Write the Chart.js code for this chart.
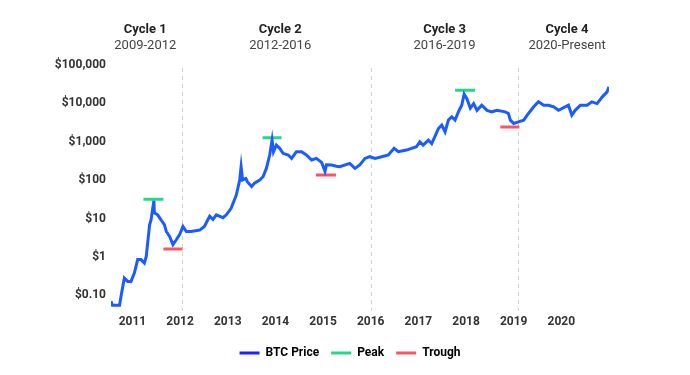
<!DOCTYPE html>
<html>
<head>
<meta charset="utf-8">
<script src="https://cdn.jsdelivr.net/npm/chart.js@4/dist/chart.umd.min.js"></script>
<style>
  html, body { margin: 0; padding: 0; background: #fff; }
  #wrap { width: 690px; height: 375px; }
</style>
</head>
<body>
<div id="wrap"><canvas id="btcChart"></canvas></div>
<script>
// BTC price (decimal year, USD)
const dates = [
  2010.55, 2010.58, 2010.73, 2010.76, 2010.83, 2010.90, 2010.97, 2011.04, 2011.11, 2011.18,
  2011.25, 2011.29, 2011.36, 2011.39, 2011.45, 2011.46, 2011.53, 2011.60, 2011.67, 2011.71,
  2011.78, 2011.85, 2011.92, 2011.99, 2012.06, 2012.13, 2012.23, 2012.41, 2012.51, 2012.62,
  2012.69, 2012.76, 2012.90, 2012.97, 2013.07, 2013.18, 2013.25, 2013.28, 2013.31, 2013.38,
  2013.41, 2013.50, 2013.56, 2013.67, 2013.74, 2013.81, 2013.88, 2013.93, 2013.96, 2014.02,
  2014.09, 2014.16, 2014.27, 2014.34, 2014.44, 2014.55, 2014.65, 2014.76, 2014.86, 2014.97,
  2015.04, 2015.07, 2015.18, 2015.28, 2015.35, 2015.56, 2015.67, 2015.77, 2015.88, 2015.98,
  2016.09, 2016.23, 2016.37, 2016.49, 2016.58, 2016.75, 2016.96, 2017.03, 2017.10, 2017.21,
  2017.28, 2017.42, 2017.49, 2017.56, 2017.63, 2017.70, 2017.77, 2017.84, 2017.91, 2017.96,
  2018.02, 2018.09, 2018.16, 2018.23, 2018.33, 2018.44, 2018.54, 2018.65, 2018.82, 2018.89,
  2018.93, 2019.00, 2019.10, 2019.21, 2019.31, 2019.42, 2019.52, 2019.63, 2019.73, 2019.84,
  2019.94, 2020.08, 2020.15, 2020.22, 2020.29, 2020.40, 2020.54, 2020.64, 2020.75, 2020.86,
  2020.96, 2021.00
];
const prices = [
  0.07, 0.055, 0.055, 0.094, 0.28, 0.23, 0.23, 0.38, 0.85, 0.85,
  0.69, 1.03, 6.9, 9.2, 29, 14, 12.5, 9.2, 6.9, 4.6,
  3.4, 2.1, 2.8, 3.8, 6.2, 4.6, 4.6, 5.0, 6.2, 11.5,
  9.5, 12.5, 10.5, 12.5, 18.5, 41, 101, 224, 101, 111,
  91, 68, 83, 101, 123, 202, 452, 1107, 550, 820,
  675, 500, 452, 368, 550, 550, 452, 335, 368, 290,
  170, 250, 248, 230, 224, 273, 202, 248, 368, 408,
  368, 408, 452, 675, 550, 608, 742, 1000, 820, 1107,
  900, 2210, 2716, 1820, 3660, 4470, 3660, 6030, 8970, 17500,
  13000, 7500, 9900, 6600, 8970, 6600, 6030, 6600, 6030, 5460,
  3660, 2990, 3300, 3660, 5460, 8130, 11000, 8970, 8970, 8130,
  6600, 8130, 8970, 4930, 6600, 8970, 8970, 11000, 9900, 14800,
  20000, 26900
];

// peak / trough markers
const peakStart = [2011.23, 2013.73, 2017.77];
const peakEnd = [2011.65, 2014.13, 2018.19];
const peakPrice = [31.6, 1270, 22000];
const troughStart = [2011.65, 2014.85, 2018.72];
const troughEnd = [2012.05, 2015.27, 2019.12];
const troughPrice = [1.6, 136, 2410];

// cycles
const cycleNames = ["Cycle 1", "Cycle 2", "Cycle 3", "Cycle 4"];
const cycleRanges = ["2009-2012", "2012-2016", "2016-2019", "2020-Present"];
const cycleCenters = [2011.27, 2014.1, 2017.55, 2020.12];
const dividers = [2012.05, 2016.0, 2019.08];

const yTicks = [0.1, 1, 10, 100, 1000, 10000, 100000];
const yTickLabels = ["$0.10", "$1", "$10", "$100", "$1,000", "$10,000", "$100,000"];
const xTicks = [2011, 2012, 2013, 2014, 2015, 2016, 2017, 2018, 2019, 2020];

const BLUE = "#1a5cff";
const GREEN = "#22d98a";
const RED = "#ff5262";

function segments(starts, ends, vals) {
  const out = [];
  starts.forEach((s, i) => {
    out.push({ x: s, y: vals[i] });
    out.push({ x: ends[i], y: vals[i] });
    out.push({ x: ends[i] + 0.001, y: null });
  });
  return out;
}

const cyclePlugin = {
  id: "cycles",
  afterLayout(chart) {
    // centre the legend on the whole canvas, not on the padded box
    const shift = (chart.width - chart.legend.right - chart.legend.left) / 2 + 5;
    chart.legend.left += shift;
    chart.legend.right += shift;
  },
  beforeDatasetsDraw(chart) {
    const { ctx, chartArea, scales } = chart;
    ctx.save();
    ctx.strokeStyle = "#cfcfcf";
    ctx.lineWidth = 1;
    ctx.setLineDash([4, 4]);
    dividers.forEach(d => {
      const x = Math.round(scales.x.getPixelForValue(d)) + 0.5;
      ctx.beginPath();
      ctx.moveTo(x, chartArea.top + 3);
      ctx.lineTo(x, chartArea.bottom + 2);
      ctx.stroke();
    });
    ctx.restore();
  },
  afterDraw(chart) {
    const { ctx, scales } = chart;
    ctx.save();
    ctx.textAlign = "center";
    ctx.textBaseline = "middle";
    cycleNames.forEach((name, i) => {
      const x = scales.x.getPixelForValue(cycleCenters[i]);
      ctx.fillStyle = "#222";
      ctx.font = "bold 13px Roboto";
      ctx.fillText(name, x, 30);
      ctx.fillStyle = "#444";
      ctx.font = "13px Roboto";
      ctx.fillText(cycleRanges[i], x, 46);
    });
    ctx.restore();
  }
};

Chart.defaults.font.family = "Roboto";
Chart.defaults.color = "#333";

new Chart(document.getElementById("btcChart"), {
  type: "line",
  data: {
    datasets: [
      {
        label: "BTC Price",
        data: dates.map((d, i) => ({ x: d, y: prices[i] })),
        borderColor: BLUE,
        backgroundColor: BLUE,
        borderWidth: 3,
        pointRadius: 0,
        tension: 0
      },
      {
        label: "Peak",
        data: segments(peakStart, peakEnd, peakPrice),
        borderColor: GREEN,
        backgroundColor: GREEN,
        borderWidth: 3,
        pointRadius: 0,
        spanGaps: false
      },
      {
        label: "Trough",
        data: segments(troughStart, troughEnd, troughPrice),
        borderColor: RED,
        backgroundColor: RED,
        borderWidth: 3,
        pointRadius: 0,
        spanGaps: false
      }
    ]
  },
  options: {
    responsive: true,
    maintainAspectRatio: false,
    animation: false,
    layout: { padding: { top: 65, right: 81, left: 0, bottom: 6 } },
    plugins: {
      tooltip: { enabled: false },
      legend: {
        position: "bottom",
        labels: {
          boxWidth: 20,
          boxHeight: 3,
          padding: 12,
          color: "#333",
          font: { size: 12, weight: "bold" },
          generateLabels(chart) {
            const cols = ["#1f22ff", GREEN, RED];
            return chart.data.datasets.map((ds, i) => ({
              text: ds.label,
              fillStyle: cols[i],
              strokeStyle: cols[i],
              lineWidth: 0,
              datasetIndex: i
            }));
          }
        }
      }
    },
    scales: {
      x: {
        type: "linear",
        min: 2010.55,
        max: 2021.0,
        grid: { display: false, drawTicks: false },
        border: { display: false },
        afterBuildTicks(scale) { scale.ticks = xTicks.map(v => ({ value: v })); },
        ticks: {
          padding: 6,
          color: "#333",
          font: { size: 12, weight: "bold" },
          callback: v => String(v)
        }
      },
      y: {
        type: "logarithmic",
        min: 0.045,
        max: 100000,
        grid: { display: false, drawTicks: false },
        border: { display: false },
        afterBuildTicks(scale) { scale.ticks = yTicks.map(v => ({ value: v })); },
        afterFit(scale) { scale.width = 111; },
        ticks: {
          padding: 5,
          color: "#333",
          font: { size: 12, weight: "bold" },
          callback: v => yTickLabels[yTicks.indexOf(v)] || ""
        }
      }
    }
  },
  plugins: [cyclePlugin]
});
</script>
</body>
</html>
